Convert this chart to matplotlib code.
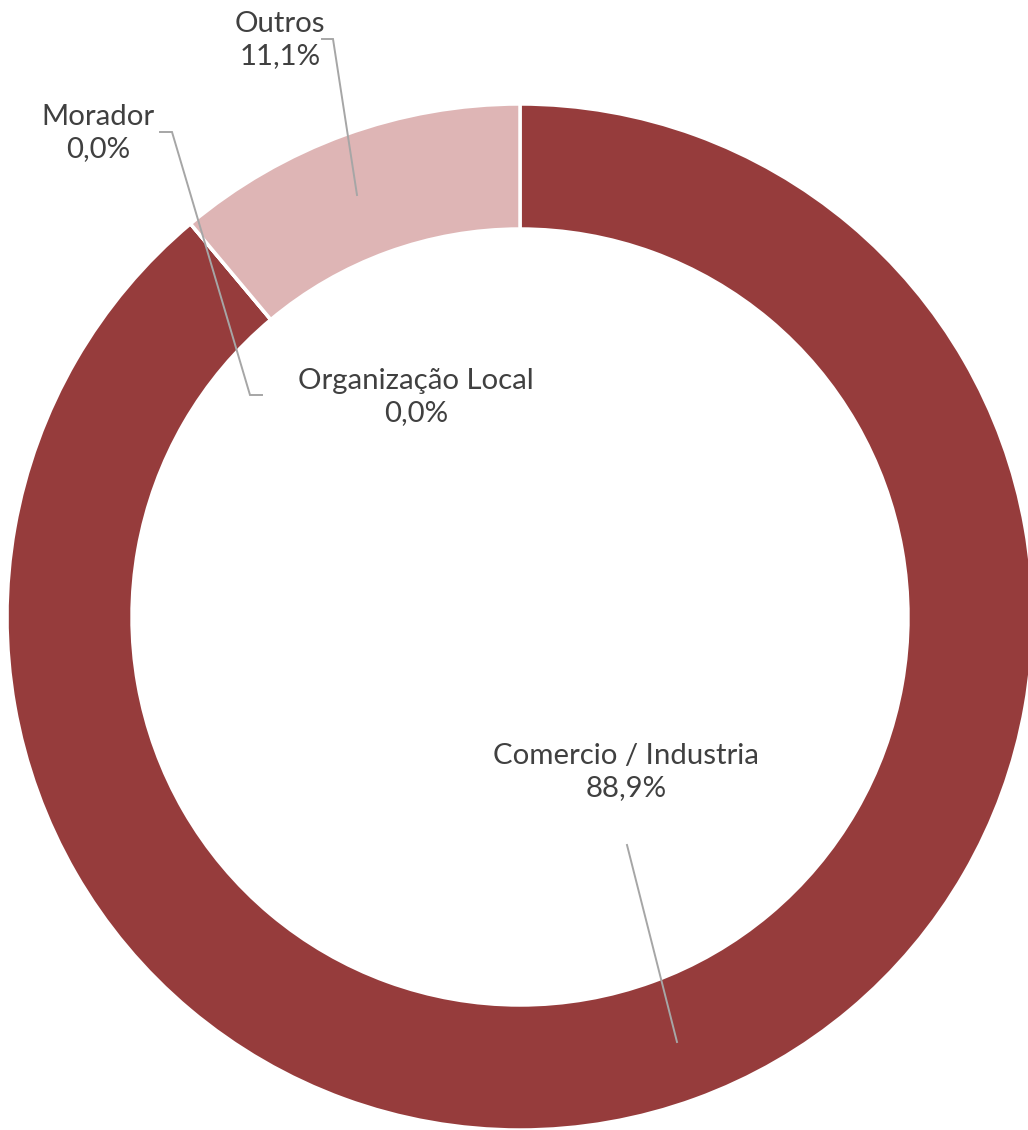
import matplotlib.pyplot as plt

# data
categories = ['Comercio / Industria', 'Organização Local', 'Morador', 'Outros']
shares = [88.9, 0.0, 0.0, 11.1]
slice_colors = ['#963C3C', '#963C3C', '#963C3C', '#DEB5B5']

W, H = 1028, 1130
fig = plt.figure(figsize=(W / 100, H / 100), dpi=100)
ax = fig.add_axes([0, 0, 1, 1])

def py(y):
    # pixel row (from top) -> data y
    return H - y

ax.pie(shares, colors=slice_colors, startangle=90, counterclock=False,
       radius=513, center=(520, py(617)),
       wedgeprops=dict(width=125, edgecolor='white', linewidth=2.5))

ax.set_xlim(0, W)
ax.set_ylim(0, H)
ax.set_aspect('equal')
ax.axis('off')

def fmt(v):
    return f'{v:.1f}'.replace('.', ',') + '%'

label_pos = [(626, 772), (416, 397), (98, 133), (280, 40)]
for name, val, (x, y) in zip(categories, shares, label_pos):
    ax.text(x, py(y), f'{name}\n{fmt(val)}', ha='center', va='center',
            fontsize=21.2, color='#404040', family='Lato', linespacing=1.3)

# leader lines
line_kw = dict(color='#A6A6A6', lw=1.4, solid_joinstyle='miter')
ax.plot([627, 677], [py(845), py(1042)], **line_kw)
ax.plot([160, 172, 250, 262], [py(132), py(132), py(395), py(395)], **line_kw)
ax.plot([322, 333, 357], [py(39), py(39), py(195)], **line_kw)

plt.savefig('out.png', dpi=100)
